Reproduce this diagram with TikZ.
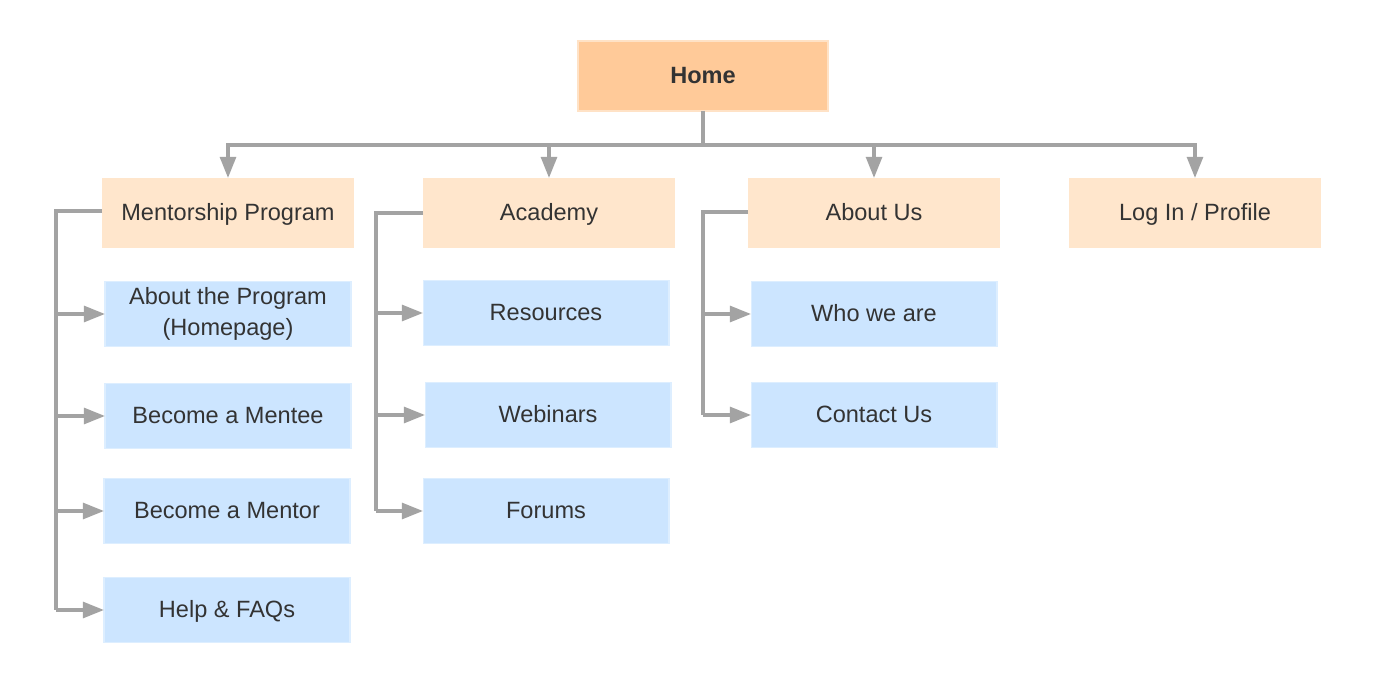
\documentclass[tikz,border=0pt]{standalone}
\usepackage{fontspec}
\setmainfont{Liberation Sans}
\usetikzlibrary{arrows.meta}
\definecolor{homeColor}{HTML}{FFCA99}
\definecolor{homeBorder}{HTML}{FFE2C6}
\definecolor{sectionColor}{HTML}{FFE6CC}
\definecolor{pageColor}{HTML}{CCE5FF}
\definecolor{pageBorder}{HTML}{DDEEFF}
\definecolor{linkColor}{HTML}{A3A3A3}
\definecolor{textColor}{HTML}{333333}

\begin{document}
\begin{tikzpicture}[x=0.02cm, y=-0.02cm,
    every node/.style={inner sep=0pt, outer sep=0pt, text=textColor,
        font=\fontsize{13.4}{15.5}\selectfont, align=center},
    oneline/.style={text height=0.88em, text depth=0pt},
    homebox/.style={oneline, fill=homeColor, draw=homeBorder, line width=1.2pt,
        minimum width=5cm, minimum height=1.4cm, font=\fontsize{13.4}{15.5}\selectfont\bfseries},
    sectionbox/.style={oneline, fill=sectionColor, minimum width=5.04cm, minimum height=1.4cm},
    pagebox/.style={fill=pageColor, draw=pageBorder, line width=0.6pt,
        minimum width=4.92cm, minimum height=1.3cm},
    link/.style={draw=linkColor, line width=1.9pt},
    arrowlink/.style={link, -{Triangle[width=9pt, length=12pt]}}]
    \useasboundingbox (0,0) rectangle (1382,685);

    \node[homebox] (home) at (703,76) {Home};

    \node[sectionbox] (mentorship) at (228,213) {Mentorship Program};
    \node[sectionbox] (academy) at (549,213) {Academy};
    \node[sectionbox] (aboutus) at (874,213) {About Us};
    \node[sectionbox] (login) at (1195,213) {Log In / Profile};

    \node[pagebox] (aboutprog) at (228,314) {About the Program\\[2pt](Homepage)};
    \node[pagebox, oneline] (mentee) at (228,416) {Become a Mentee};
    \node[pagebox, oneline] (mentor) at (227,511) {Become a Mentor};
    \node[pagebox, oneline] (faqs) at (227,610) {Help \& FAQs};

    \node[pagebox, oneline] (resources) at (546,313) {Resources};
    \node[pagebox, oneline] (webinars) at (548,415) {Webinars};
    \node[pagebox, oneline] (forums) at (546,511) {Forums};

    \node[pagebox, oneline] (whoweare) at (874,314) {Who we are};
    \node[pagebox, oneline] (contact) at (874,415) {Contact Us};

    % top level
    \coordinate (split) at (703,145);
    \draw[link, line width=2.4pt] (home.south) -- (split);
    \draw[arrowlink] (split) -| (mentorship.north);
    \draw[arrowlink] (split) -| (academy.north);
    \draw[arrowlink] (split) -| (aboutus.north);
    \draw[arrowlink] (split) -| (login.north);

    % mentorship program
    \coordinate (mtrunk) at (56,211);
    \draw[link] (mentorship.west |- mtrunk) -- (mtrunk) -- (mtrunk |- faqs.west);
    \draw[arrowlink] (mtrunk |- aboutprog.west) -- (aboutprog.west);
    \draw[arrowlink] (mtrunk |- mentee.west) -- (mentee.west);
    \draw[arrowlink] (mtrunk |- mentor.west) -- (mentor.west);
    \draw[arrowlink] (mtrunk |- faqs.west) -- (faqs.west);

    % academy
    \coordinate (atrunk) at (376,213);
    \draw[link] (academy.west) -- (atrunk) -- (atrunk |- forums.west);
    \draw[arrowlink] (atrunk |- resources.west) -- (resources.west);
    \draw[arrowlink] (atrunk |- webinars.west) -- (webinars.west);
    \draw[arrowlink] (atrunk |- forums.west) -- (forums.west);

    % about us
    \coordinate (utrunk) at (703,212);
    \draw[link] (aboutus.west |- utrunk) -- (utrunk) -- (utrunk |- contact.west);
    \draw[arrowlink] (utrunk |- whoweare.west) -- (whoweare.west);
    \draw[arrowlink] (utrunk |- contact.west) -- (contact.west);
\end{tikzpicture}
\end{document}
